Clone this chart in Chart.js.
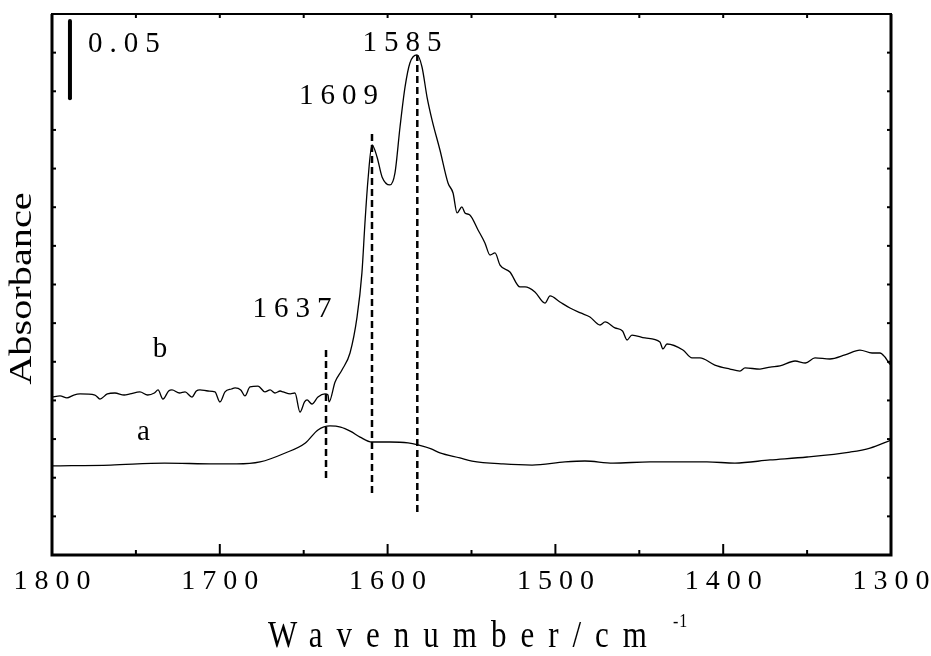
<!DOCTYPE html>
<html><head><meta charset="utf-8">
<script src="https://cdn.jsdelivr.net/npm/chart.js@4.4.1/dist/chart.umd.min.js"></script>
<style>html,body{margin:0;padding:0;background:#fff}#wrap{width:931px;height:656px}</style>
</head><body><div id="wrap"><canvas id="c" width="931" height="656"></canvas></div>
<script>
// ---- data (wavenumber cm-1, absorbance) ----
const waveA = [1800,1765,1733,1703,1690,1676,1661,1649,1641.5,1634.3,1628,1622,1616.4,1609.3,1598.6,1587.8,1581.9,1574,1568.8,1556.9,1549.7,1531.2,1513.9,1494.3,1482.4,1465.7,1443.6,1409.7,1393,1372.1,1350,1324.4,1312.5,1300];
const absA  = [0.0576,0.0582,0.0595,0.0589,0.0589,0.0602,0.066,0.0725,0.0809,0.0835,0.0828,0.0800,0.0763,0.0731,0.0731,0.0725,0.0712,0.0686,0.066,0.0628,0.0608,0.0589,0.0582,0.0602,0.0608,0.0595,0.0602,0.0602,0.0595,0.0615,0.0634,0.0666,0.0692,0.0744];

const waveB = [1800,1795.2,1791.1,1787,1783.3,1774.4,1771.4,1767,1762.5,1757,1753.5,1747.6,1743,1739,1736.8,1733.9,1730.5,1728.5,1724,1720.7,1716.6,1714,1711.8,1707,1702.9,1699.9,1696.9,1693,1690.9,1687.5,1685,1682,1677.2,1673.1,1670,1667.1,1664,1662.3,1658,1655.2,1652.2,1649.5,1648,1645.1,1641.5,1637.3,1635.5,1634.9,1631.3,1627.2,1622.4,1618.2,1615.3,1613.5,1611.7,1609.3,1606.3,1603.3,1598.6,1595.6,1592.6,1589.6,1586.7,1582.5,1579.5,1576.5,1573.5,1568.8,1564,1561,1558.6,1555.7,1553.9,1551,1546.1,1542,1539,1536,1533,1527.1,1521.1,1518.1,1512.2,1506.2,1503.2,1497.3,1491.3,1485,1479.4,1473.4,1470.4,1464.5,1460,1457.3,1454.4,1446.6,1437.7,1435.9,1433.5,1424,1418.6,1413.9,1405,1396,1390,1387,1378.1,1372,1366.2,1357.2,1351,1345.3,1336.4,1327.4,1318.5,1311.3,1306.6,1303.6,1301.2,1300];
const absB  = [0.1022,0.1029,0.1016,0.1035,0.1042,0.1035,0.1009,0.1042,0.1048,0.1035,0.1042,0.1055,0.1035,0.1048,0.1068,0.1009,0.1061,0.1068,0.1048,0.1055,0.1022,0.1061,0.1068,0.1061,0.1055,0.0990,0.1055,0.1074,0.1081,0.1068,0.1029,0.1087,0.1093,0.1055,0.1068,0.1048,0.1061,0.1055,0.1042,0.1048,0.0925,0.0990,0.1003,0.0977,0.1022,0.1042,0.1035,0.0990,0.1119,0.1197,0.1307,0.1540,0.1825,0.2148,0.2426,0.2653,0.2575,0.2446,0.2394,0.2472,0.2769,0.3028,0.3183,0.3235,0.3157,0.2963,0.2814,0.2620,0.2407,0.2342,0.2213,0.2252,0.2213,0.2200,0.2103,0.2019,0.1941,0.1954,0.1876,0.1831,0.1734,0.1734,0.1702,0.1630,0.1676,0.1637,0.1598,0.1566,0.1540,0.1488,0.1508,0.1469,0.1449,0.1391,0.1423,0.1404,0.1378,0.1333,0.1365,0.1326,0.1275,0.1275,0.1229,0.1203,0.1190,0.1210,0.1203,0.1216,0.1223,0.1255,0.1242,0.1275,0.1268,0.1294,0.1326,0.1307,0.1307,0.1281,0.1242,0.1229];

// peak marker lines: wavenumber, lower and upper absorbance
const peakWave = [1636.7, 1609.3, 1582.3];
const peakLow  = [0.0498, 0.0401, 0.0278];
const peakHigh = [0.1339, 0.2737, 0.3235];

// text labels: text, wavenumber, absorbance (baseline)
const labelText = ['1637', '1609', '1585', 'a', 'b', '0.05'];
const labelWave = [1657, 1629.3, 1591.4, 1745.5, 1735.6, 1778.5];
const labelAbs  = [0.1540, 0.2918, 0.3261, 0.0744, 0.1281, 0.3254];

// scale bar (0.05 absorbance)
const barWave = 1789.3;
const barAbs = [0.2955, 0.3455];

const xTicks = [1800, 1700, 1600, 1500, 1400, 1300];
const xTitle = 'Wavenumber/cm';
const xTitleSup = '-1';
const yTitle = 'Absorbance';

// ---- build ----
const serif = '"Liberation Serif", "Times New Roman", serif';
const ds = [];
ds.push({data: waveA.map((w,i)=>({x:w,y:absA[i]})), borderColor:'#000', borderWidth:1.3, pointRadius:0, cubicInterpolationMode:'monotone', fill:false});
ds.push({data: waveB.map((w,i)=>({x:w,y:absB[i]})), borderColor:'#000', borderWidth:1.3, pointRadius:0, cubicInterpolationMode:'monotone', fill:false});
peakWave.forEach((w,i)=>ds.push({data:[{x:w,y:peakLow[i]},{x:w,y:peakHigh[i]}], borderColor:'#000', borderWidth:2.5, borderDash:[7,4], pointRadius:0}));
ds.push({data:[{x:barWave,y:barAbs[0]},{x:barWave,y:barAbs[1]}], borderColor:'#000', borderWidth:4, pointRadius:0, borderCapStyle:'round'});

const framePlugin = {
  id: 'frame',
  afterDraw(chart) {
    const {ctx, chartArea:{left,right,top,bottom}, scales:{x,y}} = chart;
    ctx.save();
    ctx.strokeStyle = '#000';
    ctx.lineWidth = 2;
    for (let v = 1300; v <= 1800; v += 50) {
      const px = x.getPixelForValue(v);
      const major = v % 100 === 0;
      ctx.beginPath(); ctx.moveTo(px, bottom); ctx.lineTo(px, bottom - (major ? 11 : 5)); ctx.stroke();
      ctx.beginPath(); ctx.moveTo(px, top); ctx.lineTo(px, top + 4); ctx.stroke();
    }
    for (let k = 0; k <= 14; k++) {
      const py = y.getPixelForValue(k * 0.025);
      ctx.beginPath(); ctx.moveTo(left, py); ctx.lineTo(left + 4, py); ctx.stroke();
      ctx.beginPath(); ctx.moveTo(right, py); ctx.lineTo(right - 4, py); ctx.stroke();
    }
    // frame
    ctx.lineWidth = 3;
    ctx.beginPath();
    ctx.moveTo(left, top); ctx.lineTo(left, bottom); ctx.lineTo(right, bottom); ctx.lineTo(right, top);
    ctx.stroke();
    ctx.lineWidth = 2;
    ctx.beginPath(); ctx.moveTo(left - 1, top); ctx.lineTo(right + 1, top); ctx.stroke();
    // labels
    ctx.fillStyle = '#000';
    ctx.textBaseline = 'alphabetic';
    ctx.font = '29px ' + serif;
    labelText.forEach((t,i)=>{
      const px = x.getPixelForValue(labelWave[i]);
      const py = y.getPixelForValue(labelAbs[i]);
      const isNum = /\d/.test(t);
      ctx.letterSpacing = isNum ? '7px' : '0px';
      if (t === '0.05') { ctx.textAlign = 'left'; ctx.fillText(t, px, py); }
      else { ctx.textAlign = 'center'; ctx.fillText(t, px + (isNum ? 3.5 : 0), py); }
    });
    // y title (stretched along its length)
    ctx.save();
    ctx.translate(31, (top + bottom) / 2 + 4);
    ctx.rotate(-Math.PI / 2);
    ctx.scale(1.3, 1);
    ctx.font = '31px ' + serif; ctx.letterSpacing = '0px';
    ctx.textAlign = 'center';
    ctx.fillText(yTitle, 0, 0);
    ctx.restore();
    // x title with superscript
    ctx.save();
    ctx.font = '31px ' + serif; ctx.letterSpacing = '14px';
    const w1 = ctx.measureText(xTitle).width;
    const sx = 268;
    ctx.translate(0, 647);
    ctx.scale(1, 1.2);
    ctx.textAlign = 'left';
    ctx.fillText(xTitle, sx, 0);
    ctx.font = '16px ' + serif; ctx.letterSpacing = '1px';
    ctx.fillText(xTitleSup, sx + w1 + 12, -17);
    ctx.restore();
    ctx.restore();
  }
};

new Chart(document.getElementById('c'), {
  type: 'line',
  data: { datasets: ds },
  options: {
    responsive: false,
    animation: false,
    events: [],
    layout: { padding: { left: 0, right: 40, top: 14, bottom: 0 } },
    plugins: { legend: { display: false }, tooltip: { enabled: false } },
    scales: {
      x: {
        type: 'linear', reverse: true, min: 1300, max: 1800,
        afterBuildTicks: s => { s.ticks = xTicks.map(v => ({value: v})); },
        afterFit: s => { s.height = 101; s.paddingLeft = 0; s.paddingRight = 0; },
        grid: { display: false, drawTicks: false },
        border: { display: false },
        ticks: { autoSkip: false, maxRotation: 0, padding: 10, color: '#000',
          font: { family: serif, size: 28 },
          callback: v => String(v).split('').join(' ') }
      },
      y: {
        type: 'linear', min: 0, max: 0.35,
        afterFit: s => { s.width = 52; s.paddingTop = 0; s.paddingBottom = 0; },
        grid: { display: false, drawTicks: false },
        border: { display: false },
        ticks: { display: false },
        title: { display: false }
      }
    }
  },
  plugins: [framePlugin]
});
</script></body></html>
